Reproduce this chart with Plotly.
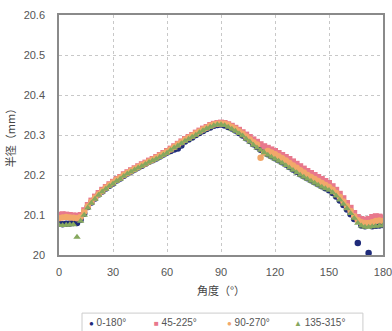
import plotly.graph_objects as go

angles = list(range(0, 181, 2))

s_0_180 = [20.078, 20.077, 20.078, 20.079, 20.080, 20.080, 20.088, 20.103, 20.120, 20.131,
           20.141, 20.151, 20.159, 20.166, 20.173, 20.179, 20.186, 20.191, 20.198, 20.204,
           20.209, 20.214, 20.219, 20.223, 20.228, 20.233, 20.237, 20.241, 20.246, 20.251,
           20.256, 20.260, 20.264, 20.266, 20.274, 20.284, 20.289, 20.294, 20.300, 20.305,
           20.310, 20.315, 20.319, 20.323, 20.325, 20.326, 20.324, 20.320, 20.316, 20.311,
           20.305, 20.299, 20.292, 20.285, 20.277, 20.270, 20.263, 20.257, 20.252, 20.247,
           20.242, 20.237, 20.232, 20.226, 20.220, 20.214, 20.208, 20.202, 20.197, 20.192,
           20.187, 20.182, 20.177, 20.172, 20.167, 20.162, 20.155, 20.146, 20.136, 20.125,
           20.114, 20.102, 20.090, 20.030, 20.074, 20.072, 20.005, 20.072, 20.073, 20.074,
           20.075]

s_45_225 = [20.100, 20.102, 20.101, 20.100, 20.099, 20.098, 20.100, 20.112, 20.125, 20.136,
            20.146, 20.155, 20.163, 20.170, 20.177, 20.183, 20.190, 20.195, 20.202, 20.207,
            20.212, 20.217, 20.222, 20.227, 20.231, 20.236, 20.240, 20.245, 20.250, 20.255,
            20.260, 20.266, 20.272, 20.278, 20.284, 20.290, 20.295, 20.300, 20.306, 20.311,
            20.316, 20.320, 20.325, 20.328, 20.330, 20.331, 20.330, 20.327, 20.323, 20.318,
            20.313, 20.307, 20.301, 20.295, 20.289, 20.283, 20.277, 20.272, 20.268, 20.264,
            20.260, 20.255, 20.250, 20.245, 20.240, 20.234, 20.228, 20.222, 20.216, 20.210,
            20.205, 20.200, 20.195, 20.190, 20.185, 20.180, 20.172, 20.163, 20.153, 20.142,
            20.130, 20.118, 20.105, 20.095, 20.090, 20.088, 20.090, 20.095, 20.097, 20.096,
            20.094]

s_90_270 = [20.092, 20.094, 20.095, 20.094, 20.093, 20.092, 20.095, 20.108, 20.122, 20.133,
            20.143, 20.152, 20.160, 20.168, 20.175, 20.181, 20.188, 20.193, 20.200, 20.205,
            20.210, 20.215, 20.220, 20.225, 20.229, 20.234, 20.238, 20.243, 20.248, 20.253,
            20.258, 20.264, 20.270, 20.276, 20.282, 20.288, 20.293, 20.298, 20.304, 20.309,
            20.314, 20.318, 20.323, 20.326, 20.328, 20.329, 20.328, 20.325, 20.320, 20.315,
            20.309, 20.303, 20.296, 20.289, 20.282, 20.276, 20.243, 20.256, 20.260, 20.256,
            20.252, 20.247, 20.242, 20.236, 20.230, 20.224, 20.218, 20.212, 20.206, 20.200,
            20.195, 20.190, 20.185, 20.180, 20.175, 20.170, 20.163, 20.155, 20.145, 20.134,
            20.122, 20.110, 20.097, 20.087, 20.082, 20.080, 20.080, 20.082, 20.085, 20.086,
            20.085]

s_135_315 = [20.075, 20.074, 20.075, 20.076, 20.076, 20.045, 20.085, 20.100, 20.118, 20.130,
             20.140, 20.150, 20.158, 20.165, 20.172, 20.178, 20.185, 20.190, 20.197, 20.203,
             20.208, 20.213, 20.218, 20.222, 20.227, 20.232, 20.236, 20.240, 20.245, 20.250,
             20.255, 20.262, 20.268, 20.273, 20.279, 20.285, 20.290, 20.295, 20.300, 20.306,
             20.311, 20.316, 20.320, 20.324, 20.326, 20.326, 20.324, 20.320, 20.315, 20.310,
             20.304, 20.298, 20.290, 20.283, 20.275, 20.268, 20.262, 20.256, 20.250, 20.245,
             20.240, 20.235, 20.230, 20.224, 20.218, 20.212, 20.206, 20.200, 20.195, 20.190,
             20.185, 20.180, 20.175, 20.170, 20.166, 20.162, 20.156, 20.148, 20.138, 20.127,
             20.116, 20.104, 20.092, 20.080, 20.073, 20.070, 20.070, 20.071, 20.072, 20.073,
             20.074]

series_names = ["0-180°", "45-225°", "90-270°", "135-315°"]
series_colors = ["#1f2b7a", "#e8788c", "#f2a86a", "#86a85e"]
series_symbols = ["circle", "square", "circle", "triangle-up"]
legend_glyphs = ["●", "■", "●", "▲"]
series_values = [s_0_180, s_45_225, s_90_270, s_135_315]

fig = go.Figure()
for name, vals, col, sym in zip(series_names, series_values, series_colors, series_symbols):
    fig.add_trace(go.Scatter(
        x=angles, y=vals, mode="markers", name=name, showlegend=False,
        marker=dict(color=col, symbol=sym, size=6.5 if sym != "square" else 6,
                    line=dict(width=0)),
    ))

# Legend drawn as a framed row of text entries below the plot
legend_font = dict(family="Liberation Sans, Arial, sans-serif", size=10, color="#555555")
legend_x = [0.086, 0.287, 0.512, 0.719]   # paper-x of each entry's left edge
legend_y = -0.283
for lx, name, col, glyph in zip(legend_x, series_names, series_colors, legend_glyphs):
    fig.add_annotation(
        x=lx, y=legend_y, xref="paper", yref="paper", xanchor="left", yanchor="middle",
        text=f"<span style='color:{col};font-size:8px'>{glyph}</span> {name}",
        showarrow=False, font=legend_font,
    )
fig.add_shape(type="rect", xref="paper", yref="paper",
              x0=0.071, x1=0.938, y0=-0.242, y1=-0.34,
              line=dict(color="#cccccc", width=1), fillcolor="rgba(0,0,0,0)")

axis_font = dict(family="Liberation Sans, Arial, sans-serif", size=11, color="#555555")
title_font = dict(family="Noto Sans CJK JP, sans-serif", size=11, color="#444444")

fig.update_layout(
    width=392, height=331,
    margin=dict(l=59, r=9, t=15, b=76, autoexpand=False),
    paper_bgcolor="white", plot_bgcolor="white",
    showlegend=False,
    xaxis=dict(
        range=[0, 180], dtick=30, tick0=0,
        showgrid=True, gridcolor="#c8c8c8", griddash="dot", gridwidth=1,
        showline=True, linecolor="#8a8a8a", linewidth=1.5, mirror=True,
        ticks="", zeroline=False, tickfont=axis_font, ticklabelstandoff=6,
        ticklabeloverflow="allow",
        title=dict(text="角度（°）", font=title_font, standoff=10),
    ),
    yaxis=dict(
        range=[20, 20.6], dtick=0.1, tick0=20,
        showgrid=True, gridcolor="#c8c8c8", griddash="dot", gridwidth=1,
        showline=True, linecolor="#8a8a8a", linewidth=1.5, mirror=True,
        ticks="", zeroline=False, tickfont=axis_font, ticklabelstandoff=10,
        title=dict(text="半径（mm）", font=title_font, standoff=6),
    ),
)

fig.write_html("out.html")
